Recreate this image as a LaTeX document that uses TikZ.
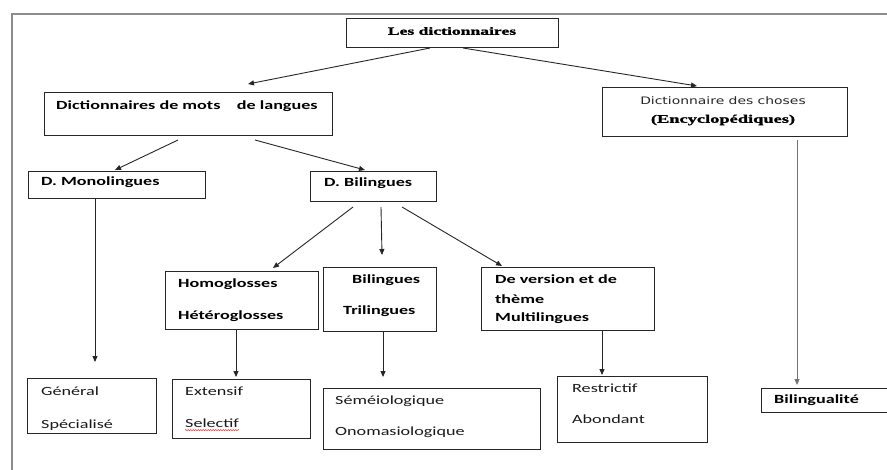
\documentclass[tikz,border=0pt]{standalone}
\usepackage{fontspec}
\usetikzlibrary{arrows.meta,decorations.pathmorphing}
\newfontfamily\calfont[FakeStretch=1.45]{Carlito}
\newfontfamily\djfont[FakeStretch=1.35]{DejaVu Sans}
\newfontfamily\serfont[FakeStretch=1.6,FakeBold=1.5]{Liberation Serif}
\tikzset{
  box/.style={draw=black!85, line width=1pt, inner sep=0pt, anchor=north west},
  txt/.style={inner sep=0pt, anchor=mid west, text=black!90, font=\calfont\fontsize{12.5}{14}\selectfont},
  btxt/.style={txt, text=black, font=\calfont\bfseries\fontsize{12.5}{14}\selectfont},
  arr/.style={-{Triangle[length=6pt,width=5pt]}, line width=0.9pt, draw=black!85},
  garr/.style={arr, draw=black!55}
}
\begin{document}
\begin{tikzpicture}[x=1pt,y=-1pt]
\path[use as bounding box] (0,0) rectangle (887,469);
\clip (0,0) rectangle (887,469);
% frame
\draw[black!45, line width=1.5pt] (12,472) -- (12,14) -- (892,14);
% boxes
\node[box, minimum width=212pt, minimum height=29pt] (top) at (346,18) {};
\node[box, minimum width=288pt, minimum height=43pt] (dml) at (44,92) {};
\node[box, minimum width=245pt, minimum height=49pt] (chos) at (602,87) {};
\node[box, minimum width=177pt, minimum height=27pt] (mono) at (28,171) {};
\node[box, minimum width=126pt, minimum height=30pt] (bil) at (310,171) {};
\node[box, minimum width=153pt, minimum height=58pt] (homo) at (165,271) {};
\node[box, minimum width=113pt, minimum height=64pt] (bitr) at (323,267) {};
\node[box, minimum width=173pt, minimum height=63pt] (vers) at (481,267) {};
\node[box, minimum width=129pt, minimum height=55pt] (gen) at (27,378) {};
\node[box, minimum width=138pt, minimum height=59pt] (ext) at (172,379) {};
\node[box, minimum width=217pt, minimum height=61pt] (sem) at (323,388) {};
\node[box, minimum width=150pt, minimum height=66pt] (res) at (557,376) {};
\node[box, minimum width=220pt, minimum height=24pt] (blt) at (761,388) {};
% texts
\node[inner sep=0pt, font=\serfont\bfseries\fontsize{11}{13}\selectfont] (ttop) at (452,31) {Les dictionnaires};
\node[btxt] (tdml) at (56,107) {Dictionnaires de mots\ \ \ \ de langues};
\node[inner sep=0pt, text=black!85, font=\djfont\fontsize{10.3}{12}\selectfont] (tch1) at (723,101) {Dictionnaire des choses};
\node[inner sep=0pt, font=\serfont\bfseries\fontsize{11.5}{13}\selectfont] (tch2) at (723,120) {(Encyclopédiques)};
\node[btxt] (tmono) at (41,183) {D. Monolingues};
\node[btxt] (tbil) at (324,184) {D. Bilingues};
\node[btxt] (thomo) at (178,285) {Homoglosses};
\node[btxt] (thet) at (178,317) {Hétéroglosses};
\node[btxt] (tbi) at (352,281) {Bilingues};
\node[btxt] (ttri) at (343,312) {Trilingues};
\node[btxt] (tv1) at (495,281) {De version et de};
\node[btxt] (tv2) at (495,301) {thème};
\node[btxt] (tv3) at (495,319) {Multilingues};
\node[txt] (tgen) at (41,393) {Général};
\node[txt] (tspe) at (41,426) {Spécialisé};
\node[txt] (text) at (185,393) {Extensif};
\node[txt] (tsel) at (185,425) {Selectif};
\node[txt] (tsem) at (335,402) {Séméiologique};
\node[txt] (tono) at (335,433) {Onomasiologique};
\node[txt] (tres) at (572,390) {Restrictif};
\node[txt] (tabo) at (572,421) {Abondant};
\node[btxt] (tblt) at (774,401) {Bilingualité};
% spelling squiggle
\draw[red!80, line width=0.5pt, decorate, decoration={snake, amplitude=0.7pt, segment length=2.5pt}]
  ([yshift=-3pt]tsel.base west) -- ([yshift=-3pt]tsel.base east);
% connectors
\draw[arr] ([xshift=84pt]top.south west) -- ([xshift=204pt,yshift=8pt]dml.north west);
\draw[arr] ([xshift=117pt]top.south west) -- ([xshift=95pt,yshift=1pt]chos.north west);
\draw[arr] ([xshift=134pt,yshift=-4pt]dml.south west) -- ([xshift=87pt,yshift=1pt]mono.north west);
\draw[arr] ([xshift=211pt,yshift=-4pt]dml.south west) -- ([xshift=55pt,yshift=1pt]bil.north west);
\draw[garr] ([xshift=195pt,yshift=-3pt]chos.south west) -- ([xshift=36pt,yshift=3pt]blt.north west);
\draw[arr] ([xshift=67pt]mono.south west) -- ([xshift=68pt,yshift=16pt]gen.north west);
\draw[arr] ([xshift=43pt,yshift=-5pt]bil.south west) -- ([xshift=108pt,yshift=3pt]homo.north west);
\draw[arr] ([xshift=71pt,yshift=-5pt]bil.south west) -- ([xshift=59pt,yshift=12pt]bitr.north west);
\draw[arr] ([xshift=92pt,yshift=-5pt]bil.south west) -- ([xshift=21pt,yshift=1pt]vers.north west);
\draw[arr] ([xshift=71pt]homo.south west) -- ([xshift=64pt,yshift=2pt]ext.north west);
\draw[arr] ([xshift=60pt]bitr.south west) -- ([xshift=60pt,yshift=11pt]sem.north west);
\draw[arr] ([xshift=121pt]vers.south west) -- ([xshift=45pt,yshift=1pt]res.north west);
\end{tikzpicture}
\end{document}
